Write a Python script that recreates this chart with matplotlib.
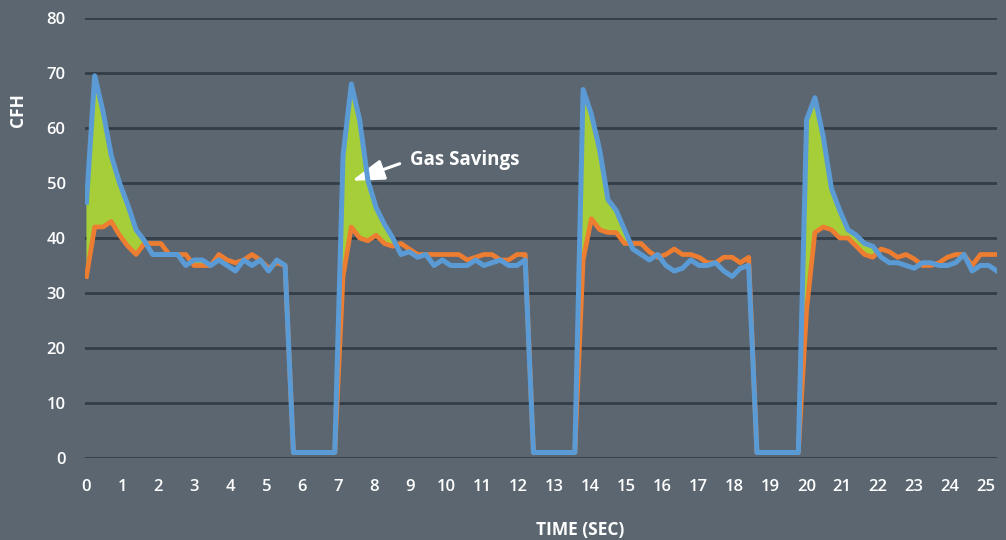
import numpy as np
import matplotlib.pyplot as plt

plt.rcParams['font.family'] = ['Open Sans', 'DejaVu Sans']

# sample spacing of the flow log, seconds
dt = 0.23

# CFH without / with the controller
blue = [46.5, 69.5, 63, 55, 50, 46, 41.5, 39.5, 37, 37, 37, 37, 35, 36, 36, 35, 36, 35, 34, 36, 35, 36, 34, 36, 35,
        1, 1, 1, 1, 1, 1,
        55, 68, 61.5, 50.5, 45.5, 42.5, 40, 37, 37.5, 36.5, 37, 35, 36, 35, 35, 35, 36, 35, 35.5, 36, 35, 35, 36,
        1, 1, 1, 1, 1, 1,
        67, 62.5, 56, 47, 45, 41.5, 38, 37, 36, 37, 35, 34, 34.5, 36, 35, 35, 35.5, 34, 33, 34.5, 35,
        1, 1, 1, 1, 1, 1,
        61.5, 65.5, 58.5, 49, 45, 41.5, 40.5, 39, 38.5, 36.5, 35.5, 35.5, 35, 34.5, 35.5, 35.5, 35, 35, 35.5, 37, 34,
        35, 35, 34]
orange = [33, 42, 42, 43, 40.5, 38.5, 37, 39, 39, 39, 37, 37, 37, 35, 35, 35, 37, 36, 35.5, 36, 37, 36, 34.5, 35.5, 35,
          1, 1, 1, 1, 1, 1,
          33, 42, 40, 39.5, 40.5, 39, 38.5, 39, 38, 37, 37, 37, 37, 37, 37, 36, 36.5, 37, 37, 36, 36, 37, 37,
          1, 1, 1, 1, 1, 1,
          36, 43.5, 41.5, 41, 41, 39, 39, 39, 37.5, 36.5, 37, 38, 37, 37, 36.5, 35.5, 35.5, 36.5, 36.5, 35.5, 36.5,
          1, 1, 1, 1, 1, 1,
          27, 41, 42, 41.5, 40, 40, 38.5, 37, 36.5, 38, 37.5, 36.5, 37, 36.2, 35, 35, 35.5, 36.5, 37, 37, 35,
          37, 37, 37]

y_ticks = list(range(0, 81, 10))
x_ticks = list(range(0, 26))

t = np.arange(len(blue)) * dt
b = np.array(blue, dtype=float)
o = np.array(orange, dtype=float)

bg = '#5b6670'
fig = plt.figure(figsize=(10.06, 5.40), dpi=100, facecolor=bg)
ax = fig.add_axes([85 / 1006, 82 / 540, 912 / 1006, 440 / 540])
ax.set_facecolor(bg)
ax.set_xlim(-0.04, 25.3)
ax.set_ylim(0, 80)

for yv in y_ticks:
    ax.axhline(yv, color='#323d47', lw=2, zorder=1)

# savings band between the two curves
ax.fill_between(t, o, b, where=b > o, interpolate=True, color='#a6ce39', lw=0, zorder=2)
ax.plot(t, o, color='#ed7d31', lw=3.4, zorder=3, solid_joinstyle='round')
ax.plot(t, b, color='#5b9bd5', lw=3.6, zorder=4, solid_joinstyle='round')

for s in ax.spines.values():
    s.set_visible(False)
ax.set_xticks(x_ticks)
ax.set_yticks(y_ticks)
ax.tick_params(length=0, colors='white', labelsize=12)
ax.tick_params(axis='x', pad=15)
ax.tick_params(axis='y', pad=14)
for lab in ax.get_xticklabels() + ax.get_yticklabels():
    lab.set_fontweight('semibold')

ax.annotate('Gas Savings', xy=(7.37, 50.4), xytext=(9.0, 54.2),
            ha='left', va='center', color='white', fontweight='bold', fontsize=13.5,
            arrowprops=dict(arrowstyle='-|>,head_length=1.1,head_width=0.35', color='white',
                            lw=2.2, shrinkA=6, shrinkB=0, mutation_scale=18, relpos=(0, 0.5)))

fig.text(580 / 1006, 1 - 530 / 540, 'TIME (SEC)', ha='center', va='center',
         color='white', fontweight='bold', fontsize=12.5)
fig.text(18 / 1006, 1 - 110 / 540, 'CFH', ha='center', va='center', rotation=90,
         color='white', fontweight='bold', fontsize=12.5)

fig.savefig('out.png', dpi=100, facecolor=bg)
